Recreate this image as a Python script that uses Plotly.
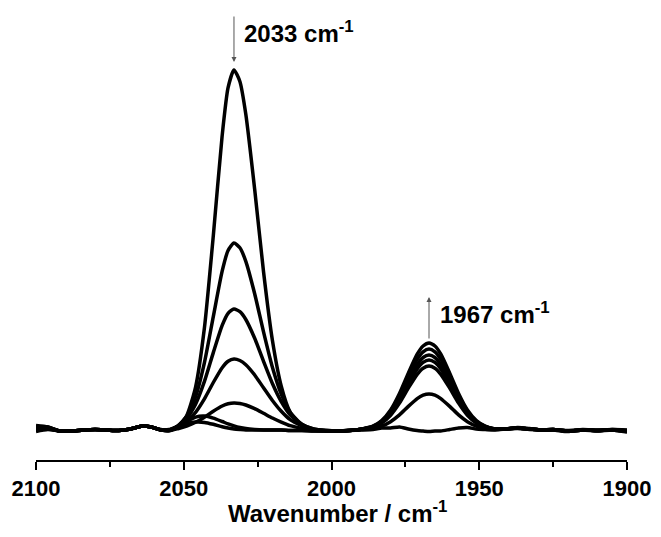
import plotly.graph_objects as go

# Wavenumber grid (cm-1)
wavenumber = [2100, 2096, 2092, 2088, 2084, 2080, 2076, 2072, 2068, 2064, 2061, 2058, 2055, 2052, 2049,
              2046, 2043, 2040, 2037, 2035, 2033, 2031, 2029, 2026, 2023, 2020, 2017, 2014, 2010, 2006,
              2002, 1998, 1994, 1990, 1986, 1983, 1980, 1977, 1974, 1971, 1969, 1967, 1965, 1963, 1960,
              1957, 1954, 1951, 1948, 1945, 1941, 1937, 1933, 1929, 1925, 1920, 1915, 1910, 1905, 1900]

# Absorbance (arbitrary units, x1000)
spectrum_1 = [4.5, 3, -1, -1, 0, 0.5, 0, -0.5, 1, 4, 3, 0.1, -0.7, 3.3, 14.3,
              42.9, 102.2, 194.2, 294.3, 342.3, 360, 348.5, 315.7, 240.7, 158.3, 89.8, 43.9, 18.0, 4.2, -0.1,
              -0.9, -1, -0.5, 0, 0.5, 2, 2, 3, 1, -0.5, -1, -1.5, -1, -1, 0.5,
              2, 2.5, 1, 0.5, 0, 1, 2, 1, 0, 0.5, -1, 0, -0.5, 0, -2]
spectrum_2 = [3.5, 3, -1, -1, 0, 0.5, 0, -0.5, 1, 4, 3, 0.3, -0.2, 4.2, 13.7,
              33.3, 67.4, 113.4, 158.8, 179.5, 187, 182.2, 168.7, 136.3, 98.1, 62.8, 35.8, 17.7, 5.7, 0.7,
              -0.6, -1, -0.5, 0.4, 1.6, 3.9, 8.3, 15.1, 23.6, 31.4, 34.8, 36, 34.8, 31.4, 23.6,
              15.1, 8.3, 3.9, 1.6, 0.5, 1.1, 2, 1, 0, 0.5, -1, 0, -0.5, 0, -1.5]
spectrum_3 = [2.5, 2.5, -1, -1, 0, 0.5, 0, -0.5, 1, 4, 3, 0.4, 0, 4.0, 11.7,
              25.9, 48.6, 77.4, 104.6, 116.7, 121, 118.3, 110.5, 91.7, 68.7, 46.5, 28.4, 15.2, 5.6, 1.0,
              -0.5, -1, -0.5, 0.7, 2.8, 7.0, 14.8, 26.9, 41.9, 55.7, 61.8, 64, 61.8, 55.7, 41.9,
              26.9, 14.8, 7.0, 2.8, 1.0, 1.2, 2, 1, 0, 0.5, -1, 0, -0.5, 0.5, -0.5]
spectrum_4 = [1.5, 2, -1, -1, 0, 0.5, 0, -0.5, 1, 4, 3, 0.4, -0.2, 3.2, 8.7,
              17.7, 31.2, 47.5, 62.3, 68.7, 71, 69.5, 65.3, 55.0, 42.2, 29.5, 18.7, 10.3, 4.0, 0.6,
              -0.5, -1, -0.5, 0.7, 3.1, 7.6, 16.2, 29.4, 45.8, 61.0, 67.6, 70, 67.6, 61.0, 45.8,
              29.4, 16.2, 7.6, 3.1, 1.1, 1.2, 2, 1, 0, 0.5, -1, 0, -0.5, 0, -1]
spectrum_5 = [0.5, 1.5, -1, -1, 0, 0.5, 0, -0.5, 1, 4, 3, 0.3, -0.8, 1.3, 4.0,
              7.7, 12.8, 18.8, 24.0, 26.2, 27, 26.5, 25.0, 21.3, 16.7, 12.0, 7.9, 4.3, 1.6, -0.2,
              -0.7, -1, -0.5, 0.8, 3.3, 8.2, 17.4, 31.6, 49.1, 65.3, 72.5, 75, 72.5, 65.3, 49.1,
              31.6, 17.4, 8.2, 3.3, 1.1, 1, 2, 1, 0, 0.5, -1, 0, -0.5, 0, -1]
spectrum_6 = [-0.5, 1, -1, -1, 0, 0.5, 0, -0.5, 1, 4, 3, 0.3, -0.3, 3.4, 8.5,
              12.9, 13.9, 11.9, 8.5, 6.1, 4.1, 2.5, 1.4, 0.5, 0, 0, 0, -0.5, -0.5, -1,
              -1, -1, -0.5, 0.8, 3.6, 8.8, 18.8, 34.1, 53.0, 70.6, 78.2, 81, 78.2, 70.6, 53.0,
              34.1, 18.8, 8.8, 3.6, 1.2, 1.0, 2.5, 1.5, 0, 0, -1.5, 0, -1, 0, -1.5]
spectrum_7 = [-1.5, 0.5, -1, -1, 0, 0.5, 0, -0.5, 1, 4, 3, 0.5, 0.5, 3.5, 6.4,
              7.9, 7.6, 5.7, 3.3, 2.0, 1.1, 0.5, 0, 0, 0, 0, 0, -0.5, -0.5, -1,
              -1, -1, -0.5, 0.9, 3.8, 9.5, 20.1, 36.6, 56.9, 75.8, 84.0, 87, 84.0, 75.8, 56.9,
              36.6, 20.1, 9.5, 3.8, 1.3, 1.2, 1.5, 0.5, 0, 0, -0.5, 0.5, 0, 0.5, 0]

spectra = [spectrum_1, spectrum_2, spectrum_3, spectrum_4, spectrum_5, spectrum_6, spectrum_7]
for s in spectra:
    assert len(s) == len(wavenumber), len(s)

x_ticks = [2100, 2050, 2000, 1950, 1900]
peak_high = 2033
peak_low = 1967

FONT = "Liberation Sans"
FS_TICK = 22
FS_TEXT = 24

fig = go.Figure()
for s in spectra:
    fig.add_trace(go.Scatter(
        x=wavenumber, y=s, mode="lines",
        line=dict(color="black", width=3.5, shape="spline", smoothing=0.6),
        showlegend=False, hoverinfo="skip"))

fig.update_layout(
    width=661, height=537,
    margin=dict(l=36, r=28, t=10, b=77),
    paper_bgcolor="white", plot_bgcolor="white",
    xaxis=dict(
        range=[2100, 1900], tickvals=x_ticks, ticktext=[str(v) for v in x_ticks],
        ticks="outside", ticklen=8, tickwidth=2, tickcolor="black",
        showline=True, linewidth=2, linecolor="black",
        showgrid=False, zeroline=False,
        tickfont=dict(family=FONT, size=FS_TICK, color="black", weight="bold"),
        minor=dict(dtick=25, tick0=1900, ticks="outside", ticklen=5, tickwidth=2, tickcolor="black"),
    ),
    yaxis=dict(range=[-30, 420], visible=False),
    annotations=[
        dict(x=peak_high, y=368, xref="x", yref="y", text="", showarrow=True,
             ax=0, ay=-47, arrowhead=2, arrowsize=1, arrowwidth=1, arrowcolor="#555555"),
        dict(x=2030.2, y=398, xref="x", yref="y", text="2033 cm<sup>-1</sup>", showarrow=False,
             xanchor="left", yanchor="middle",
             font=dict(family=FONT, size=FS_TEXT, color="black", weight="bold")),
        dict(x=peak_low, y=133, xref="x", yref="y", text="", showarrow=True,
             ax=0, ay=43, arrowhead=2, arrowsize=1, arrowwidth=1, arrowcolor="#555555"),
        dict(x=1963.9, y=117, xref="x", yref="y", text="1967 cm<sup>-1</sup>", showarrow=False,
             xanchor="left", yanchor="middle",
             font=dict(family=FONT, size=FS_TEXT, color="black", weight="bold")),
        dict(x=1998, y=-0.115, xref="x", yref="paper", text="Wavenumber / cm<sup>-1</sup>",
             showarrow=False, xanchor="center", yanchor="middle",
             font=dict(family=FONT, size=FS_TEXT, color="black", weight="bold")),
    ],
)

fig.write_html("out.html")
